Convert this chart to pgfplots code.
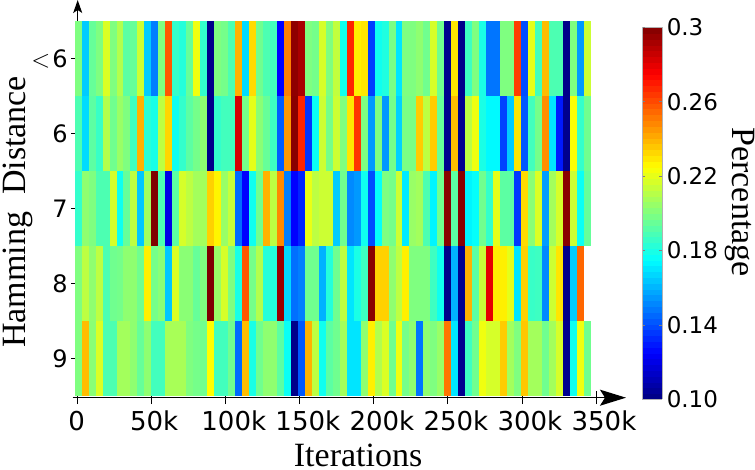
\documentclass[border=0pt]{standalone}
\usepackage{fontspec}
\setmainfont{Liberation Serif}
\newfontfamily\tickfamily{DejaVu Sans}
\usepackage{pgfplots}
\pgfplotsset{compat=1.18}
\usetikzlibrary{arrows.meta}
\pgfplotsset{colormap={refjet}{rgb255(0cm)=(0,0,128) rgb255(1cm)=(0,0,255) rgb255(3cm)=(0,255,255) rgb255(5cm)=(255,255,0) rgb255(7cm)=(255,0,0) rgb255(8cm)=(128,0,0)}}
% grid position of a table entry (74 columns per row), in integer arithmetic
\newcommand\gridrow{\the\numexpr(2*\coordindex-73)/148\relax}
\newcommand\gridcol{\the\numexpr\coordindex-74*((2*\coordindex-73)/148)\relax}
% one heat-map cell
\pgfdeclareplotmark{cell}{\pgfpathrectangle{\pgfpoint{-3.5pt}{-37.5pt}}{\pgfpoint{7pt}{75pt}}\pgfusepathqfill}
\begin{document}
\begin{tikzpicture}[x=1pt,y=1pt]
\path[use as bounding box] (0,0) rectangle (755,470);
\begin{axis}[
  at={(77.7pt,72.3pt)}, anchor=south west,
  scale only axis, width=518.3pt, height=376.7pt,
  xmin=0, xmax=350, ymin=0.477, ymax=5.5,
  axis x line=bottom, axis y line=left,
  axis on top,
  x axis line style={line width=1.2pt, shorten <=-5pt, shorten >=-30pt, -{Stealth[length=26pt,width=16pt,inset=5pt]}},
  y axis line style={line width=1.2pt, shorten <=-5pt, shorten >=-21pt, -{Stealth[length=13pt,width=9pt,inset=3pt]}},
  tick align=center, major tick length=13pt,
  tick style={black, line width=0.9pt},
  xtick={0,50,100,150,200,250,300,350},
  xticklabels={\kern-18pt 0,\kern-11pt 50k,100k,150k,200k,250k,300k,350k},
  xticklabel style={font=\tickfamily\fontsize{26}{26}\selectfont, xshift=8pt, yshift=-3pt},
  ytick={1,2,3,4,5},
  yticklabels={9,8,7,6,{{\fontsize{29}{29}\selectfont$<$}\kern2pt6}},
  yticklabel style={font=\tickfamily\fontsize{24}{24}\selectfont},
  xlabel={Iterations},
  ylabel={Hamming\ \ Distance},
  xlabel style={font=\fontsize{34}{34}\selectfont, at={(axis description cs:0.541,-0.152)}, anchor=center},
  ylabel style={font=\fontsize{34}{34}\selectfont, at={(axis description cs:-0.115,0.493)}, anchor=center},
  colormap name=refjet,
  point meta min=0.1, point meta max=0.3,
  colorbar sampled,
  colorbar style={
    at={(parent axis.south west)}, anchor=south west,
    xshift=556pt, yshift=-1.6pt,
    width=20pt, height=372pt,
    ytick={0.1,0.14,0.18,0.22,0.26,0.3},
    yticklabels={0.10,0.14,0.18,0.22,0.26,0.3},
    yticklabel pos=right,
    yticklabel style={font=\tickfamily\fontsize{23}{23}\selectfont, xshift=1pt},
    axis line style={gray!60, line width=1pt},
    tick style={gray, line width=0.6pt},
    major tick length=3pt, tick align=inside,
    samples=65,
    ylabel={Percentage},
    ylabel style={font=\fontsize{34}{34}\selectfont, rotate=180, at={(axis description cs:4.9,0.53)}, anchor=center},
  },
]
\addplot[scatter, only marks, mark=cell, point meta=\thisrow{z}, skip coords between index={147}{148}]
  table[row sep=\\, x expr={0.32+4.71*\gridcol}, y expr={1+\gridrow}] {
z\\
.2\\.238\\.202\\.218\\.19\\.19\\.207\\.207\\.203\\.195\\.203\\.188\\.188\\.208\\.208\\.208\\.2\\.198\\.197\\.225\\.188\\.188\\.197\\.146\\.238\\.18\\.197\\.203\\.203\\.193\\.177\\.102\\.142\\.24\\.212\\.178\\.193\\.197\\.207\\.17\\.17\\.203\\.228\\.21\\.218\\.197\\.222\\.198\\.203\\.148\\.203\\.2\\.205\\.252\\.17\\.103\\.187\\.197\\.222\\.217\\.217\\.235\\.207\\.2\\.236\\.207\\.207\\.197\\.207\\.217\\.103\\.178\\.222\\.197\\
.2\\.212\\.203\\.212\\.19\\.197\\.198\\.203\\.203\\.197\\.228\\.198\\.202\\.164\\.218\\.202\\.202\\.195\\.2\\.3\\.205\\.217\\.2\\.18\\.258\\.198\\.21\\.182\\.182\\.295\\.168\\.147\\.15\\.197\\.197\\.16\\.182\\.197\\.212\\.17\\.18\\.187\\.298\\.234\\.234\\.203\\.212\\.228\\.2\\.2\\.2\\.187\\.178\\.102\\.16\\.103\\.24\\.193\\.214\\.28\\.228\\.228\\.22\\.17\\.234\\.186\\.187\\.152\\.215\\.23\\.102\\.165\\.255\\nan\\
.185\\.203\\.2\\.19\\.19\\.217\\.178\\.195\\.212\\.164\\.207\\.3\\.19\\.12\\.193\\.217\\.212\\.207\\.207\\.234\\.227\\.205\\.214\\.146\\.125\\.178\\.197\\.24\\.212\\.248\\.15\\.125\\.132\\.221\\.212\\.215\\.215\\.165\\.197\\.152\\.155\\.178\\.14\\.176\\.2\\.198\\.215\\.171\\.205\\.207\\.19\\.173\\.197\\.298\\.193\\.298\\.173\\.176\\.197\\.185\\.22\\.193\\.193\\.136\\.232\\.202\\.218\\.156\\.207\\.217\\.298\\.215\\.177\\.195\\
.19\\.168\\.193\\.186\\.21\\.197\\.205\\.2\\.187\\.24\\.183\\.18\\.212\\.233\\.178\\.185\\.193\\.198\\.203\\.102\\.185\\.188\\.188\\.283\\.198\\.22\\.202\\.195\\.187\\.143\\.245\\.298\\.268\\.135\\.177\\.215\\.198\\.215\\.2\\.23\\.265\\.2\\.155\\.2\\.155\\.198\\.166\\.199\\.199\\.235\\.212\\.235\\.195\\.103\\.238\\.103\\.212\\.222\\.18\\.174\\.174\\.138\\.165\\.23\\.142\\.188\\.198\\.247\\.17\\.13\\.103\\.224\\.185\\.197\\
.2\\.165\\.195\\.2\\.218\\.2\\.21\\.193\\.195\\.215\\.165\\.15\\.2\\.258\\.185\\.182\\.195\\.222\\.185\\.102\\.2\\.198\\.19\\.24\\.168\\.232\\.197\\.19\\.188\\.125\\.25\\.297\\.292\\.2\\.198\\.217\\.2\\.213\\.178\\.268\\.228\\.23\\.137\\.178\\.181\\.199\\.17\\.2\\.2\\.203\\.197\\.217\\.197\\.103\\.23\\.102\\.187\\.2\\.18\\.148\\.148\\.2\\.2\\.263\\.14\\.22\\.188\\.238\\.19\\.19\\.102\\.2\\.155\\.215\\
};
\end{axis}
\end{tikzpicture}
\end{document}
